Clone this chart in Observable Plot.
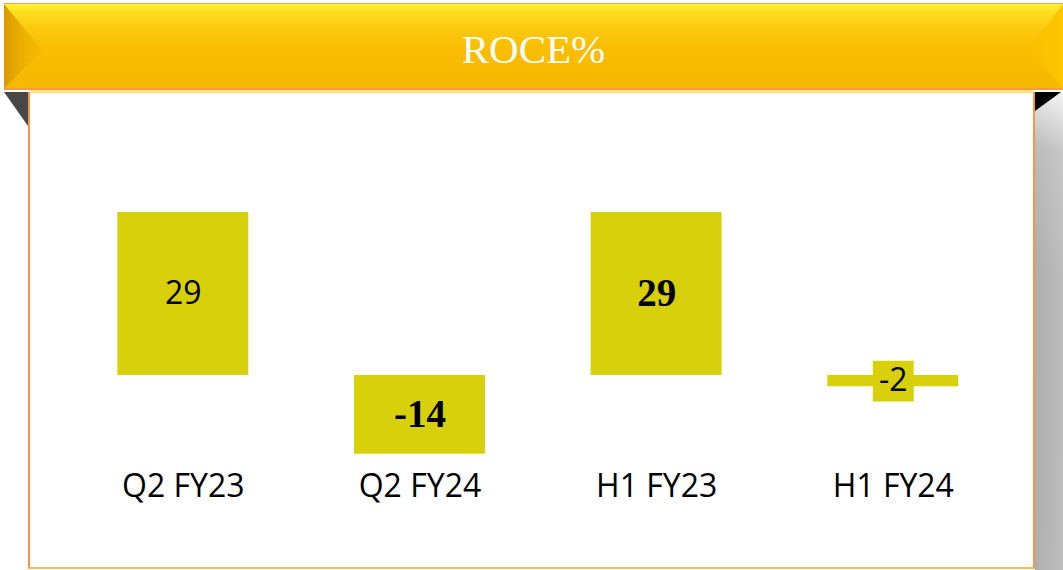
<!DOCTYPE html>
<html>
<head>
<meta charset="utf-8">
<script src="https://cdn.jsdelivr.net/npm/d3@7"></script>
<script src="https://cdn.jsdelivr.net/npm/@observablehq/plot@0.6"></script>
<style>
  html, body { margin:0; padding:0; background:#ffffff; }
  #wrap { position:relative; width:1063px; height:570px; overflow:hidden; background:#ffffff; }
  .abs { position:absolute; }
  #banner { left:4px; top:3px; width:1059px; height:87px;
    background:linear-gradient(to bottom, #fff43c 0%, #fde020 9%, #fcc90e 28%, #f9bd03 55%, #f8b900 100%);
    border-top:1px solid #f5a04a; border-bottom:2px solid #f59a48; box-sizing:border-box; }
  #bevelL { left:4px; top:4px; width:38px; height:85px;
    background:linear-gradient(to right, #d99a00 0%, #eaae00 40%, #f8bb00 100%);
    clip-path:polygon(0 0, 100% 54%, 0 100%); }
  #bevelR { left:1030px; top:4px; width:33px; height:85px;
    background:linear-gradient(to right, #f9bf00, #fdc600);
    clip-path:polygon(100% 0, 0 52%, 100% 100%); }
  #lightline { left:30px; top:90px; width:1003px; height:3px; background:#ffe47c; }
  #panel { left:28px; top:92px; width:1007px; height:477px; background:#ffffff;
    border-left:2px solid #f7954a; border-right:2px solid #f7954a; border-bottom:2px solid #fbc04c;
    border-top:0; box-sizing:border-box; }
  #foldL { left:4px; top:92px; width:24px; height:34px; background:#474747;
    clip-path:polygon(0 0, 100% 0, 100% 100%); }
  #shadowR { left:1035px; top:92px; width:28px; height:478px;
    background:linear-gradient(to bottom, #f4f4f4 0%, #c4c4c4 12%, #b6b6b6 40%, #b8b8b8 100%); }
  #shadowRh { left:1035px; top:92px; width:28px; height:478px;
    background:linear-gradient(to right, rgba(0,0,0,0.05), rgba(255,255,255,0.08)); }
  #foldR { left:1035px; top:92px; width:26px; height:19px; background:#000000;
    clip-path:polygon(0 0, 100% 0, 0 100%); }
  #title { left:4px; top:3px; width:1059px; height:87px; box-sizing:border-box;
    font-family:"Liberation Serif", "Times New Roman", serif; font-size:41px; color:#ffffff;
    text-align:center; line-height:92px; }
  #chart { left:0; top:0; }
</style>
</head>
<body>
<div id="wrap">
  <div class="abs" id="banner"></div>
  <div class="abs" id="bevelL"></div>
  <div class="abs" id="bevelR"></div>
  <div class="abs" id="shadowR"></div>
  <div class="abs" id="shadowRh"></div>
  <div class="abs" id="foldR"></div>
  <div class="abs" id="panel"></div>
  <div class="abs" id="lightline"></div>
  <div class="abs" id="foldL"></div>
  <div class="abs" id="title">ROCE%</div>
  <div class="abs" id="chart"></div>
</div>
<script>
const categories = ["Q2 FY23", "Q2 FY24", "H1 FY23", "H1 FY24"];
const roce = [29, -14, 29, -2];
const titleText = "ROCE%";

const data = categories.map((c, i) => ({category: c, value: roce[i], index: i}));
const barColor = "#d7d00a";
document.getElementById("title").textContent = titleText;

const sansLabels = data.filter(d => d.index === 0 || d.index === 3);
const serifLabels = data.filter(d => d.index === 1 || d.index === 2);
const smallBars = data.filter(d => Math.abs(d.value) < 5);

const chart = Plot.plot({
  width: 1063,
  height: 570,
  marginTop: 0,
  marginLeft: 0,
  marginRight: 0,
  marginBottom: 100,
  style: {background: "transparent", fontFamily: "Open Sans", overflow: "visible"},
  x: {type: "band", domain: categories, range: [64.5, 1011.1], paddingInner: 0.4466, paddingOuter: 0.2233, round: false},
  y: {domain: [0, 29], range: [375, 212], axis: null},
  marks: [
    Plot.barY(data, {x: "category", y1: 0, y2: "value", fill: barColor}),
    Plot.dot(smallBars, {x: "category", y: d => d.value / 2, symbol: "square", r: 23.1, fill: barColor, stroke: null}),
    Plot.text(sansLabels, {x: "category", y: d => d.value / 2, text: d => String(d.value),
      fontFamily: "Open Sans", fontSize: 32, fill: "#000000"}),
    Plot.text(serifLabels, {x: "category", y: d => d.value / 2, text: d => String(d.value),
      fontFamily: "Liberation Serif", fontWeight: "bold", fontSize: 39, fill: "#000000"}),
    Plot.axisX({anchor: "bottom", tickSize: 0, tickPadding: 4, fontSize: 32, fontFamily: "Open Sans",
      color: "#000000", label: null})
  ]
});
document.getElementById("chart").appendChild(chart);
</script>
</body>
</html>
